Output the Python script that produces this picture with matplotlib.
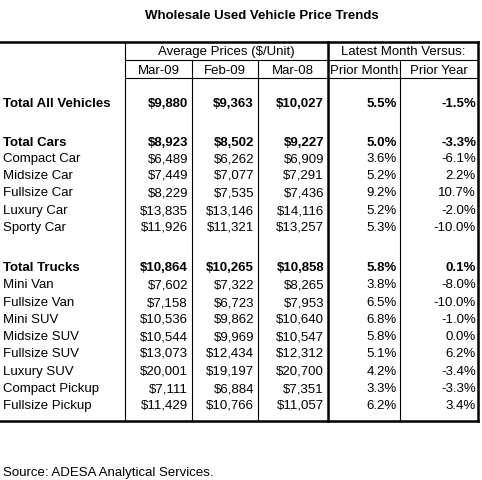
import matplotlib
matplotlib.use("Agg")
import matplotlib.pyplot as plt

title = "Wholesale Used Vehicle Price Trends"
categories = ["Total All Vehicles", "Total Cars", "Compact Car", "Midsize Car", "Fullsize Car",
              "Luxury Car", "Sporty Car", "Total Trucks", "Mini Van", "Fullsize Van", "Mini SUV",
              "Midsize SUV", "Fullsize SUV", "Luxury SUV", "Compact Pickup", "Fullsize Pickup"]
bold_rows = ["Total All Vehicles", "Total Cars", "Total Trucks"]
mar09 = [9880, 8923, 6489, 7449, 8229, 13835, 11926, 10864, 7602, 7158, 10536, 10544, 13073, 20001, 7111, 11429]
feb09 = [9363, 8502, 6262, 7077, 7535, 13146, 11321, 10265, 7322, 6723, 9862, 9969, 12434, 19197, 6884, 10766]
mar08 = [10027, 9227, 6909, 7291, 7436, 14116, 13257, 10858, 8265, 7953, 10640, 10547, 12312, 20700, 7351, 11057]
prior_month = [5.5, 5.0, 3.6, 5.2, 9.2, 5.2, 5.3, 5.8, 3.8, 6.5, 6.8, 5.8, 5.1, 4.2, 3.3, 6.2]
prior_year = [-1.5, -3.3, -6.1, 2.2, 10.7, -2.0, -10.0, 0.1, -8.0, -10.0, -1.0, 0.0, 6.2, -3.4, -3.3, 3.4]
col_headers = ["Mar-09", "Feb-09", "Mar-08", "Prior Month", "Prior Year"]
group_headers = ["Average Prices ($/Unit)", "Latest Month Versus:"]
source = "Source: ADESA Analytical Services."

fig = plt.figure(figsize=(4.82, 4.80), dpi=100)
ax = fig.add_axes([0, 0, 1, 1])
ax.set_xlim(0, 482); ax.set_ylim(480, 0); ax.axis("off")
F = "Liberation Sans"
fs = 9.5

row_y = [103, 142, 158, 175, 192, 210, 227, 267, 284, 302, 319, 336, 353, 371, 388, 405]
vx = [125, 192, 258, 328, 400, 478]
top, bot = 42, 421

ax.plot([0, 478], [top, top], color="black", lw=1.8)
ax.plot([0, 478], [bot, bot], color="black", lw=1.8)
for x in vx:
    lw = 1.8 if x in (328, 478) else 0.8
    y0 = top if x in (125, 328, 478) else 60
    ax.plot([x, x], [y0, bot], color="black", lw=lw)
ax.plot([125, 478], [60, 60], color="black", lw=0.8)
ax.plot([125, 478], [78, 78], color="black", lw=0.8)

ax.text(262, 19, title, ha="center", va="baseline", fontsize=fs, fontweight="bold", family=F)
ax.text((125 + 328) / 2, 55, group_headers[0], ha="center", va="baseline", fontsize=fs, family=F)
ax.text((328 + 478) / 2, 55, group_headers[1], ha="center", va="baseline", fontsize=fs, family=F)
for i, h in enumerate(col_headers):
    ax.text((vx[i] + vx[i + 1]) / 2, 73.5, h, ha="center", va="baseline", fontsize=fs, family=F)

rx = [188, 254, 324, 397, 476]
for i, c in enumerate(categories):
    w = "bold" if c in bold_rows else "normal"
    y = row_y[i] + 4
    ax.text(3, y, c, ha="left", va="baseline", fontsize=fs, fontweight=w, family=F)
    vals = [f"${mar09[i]:,}", f"${feb09[i]:,}", f"${mar08[i]:,}",
            f"{prior_month[i]:.1f}%", f"{prior_year[i]:.1f}%"]
    for x, v in zip(rx, vals):
        ax.text(x, y, v, ha="right", va="baseline", fontsize=fs, fontweight=w, family=F)

ax.text(3, 476, source, ha="left", va="baseline", fontsize=fs, family=F)
fig.savefig("out.png", dpi=100)
